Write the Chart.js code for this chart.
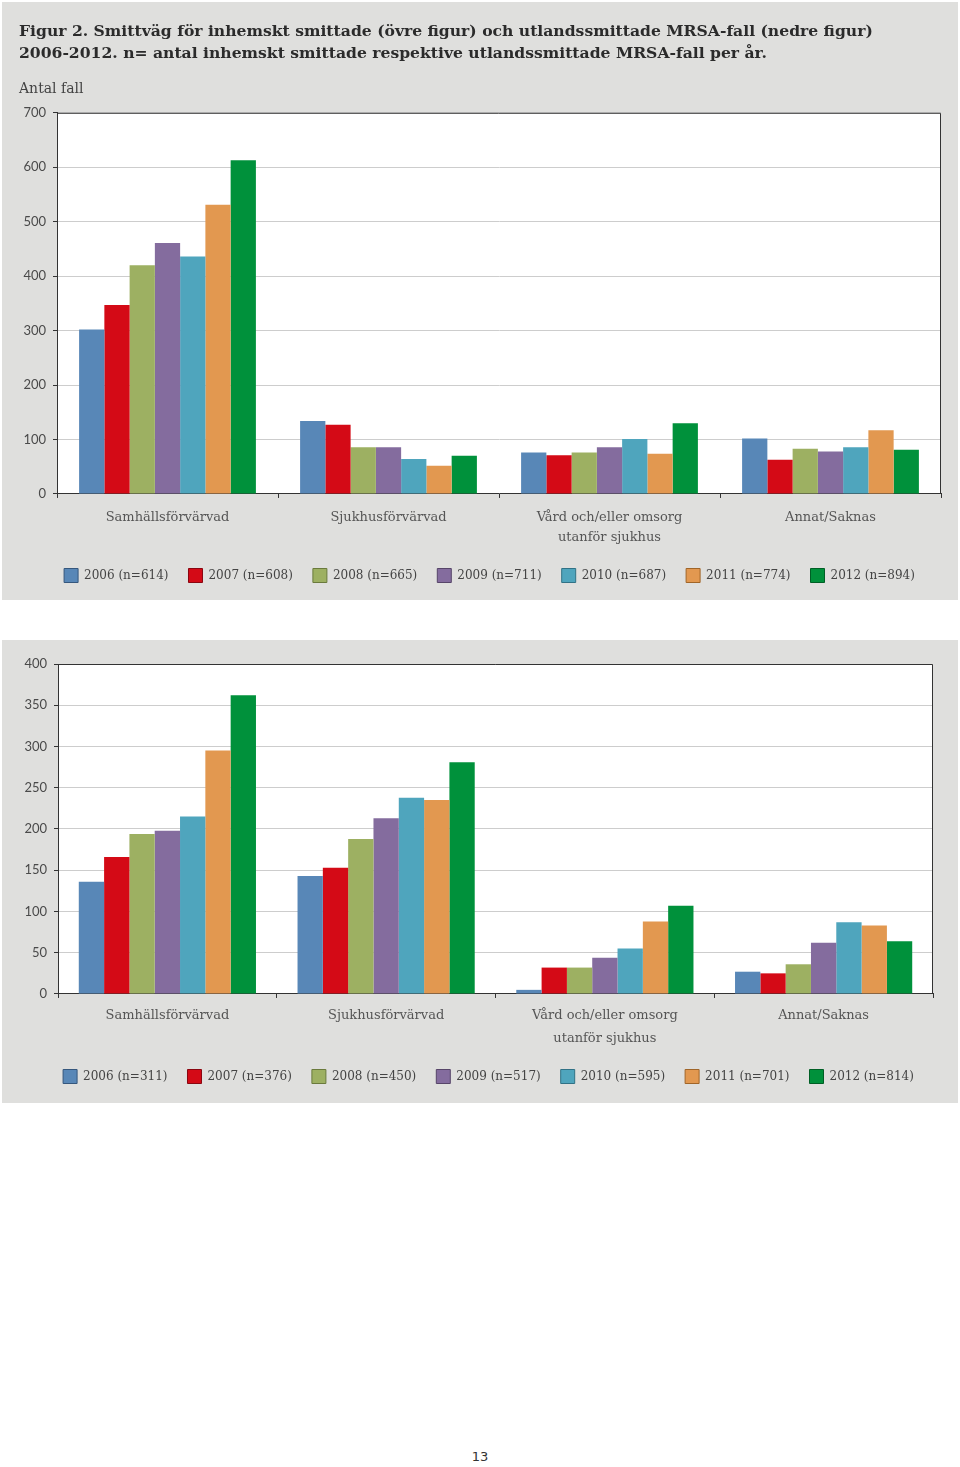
<!DOCTYPE html>
<html>
<head>
<meta charset="utf-8">
<script src="https://cdn.jsdelivr.net/npm/chart.js@4.4.1/dist/chart.umd.min.js"></script>
<style>
  body { margin: 0; background: #fff; width: 960px; height: 1467px; position: relative; }
  .panel { position: absolute; left: 2px; width: 956px; background: #dfdfdd; }
  #p1 { top: 2px; height: 598px; }
  #p2 { top: 640px; height: 463px; }
  #pageno { position: absolute; top: 1449px; left: 0; width: 960px; text-align: center;
            font: 13px 'DejaVu Sans'; color: #333; }
</style>
</head>
<body>
<div class="panel" id="p1"><canvas id="c1" width="956" height="598"></canvas></div>
<div class="panel" id="p2"><canvas id="c2" width="956" height="463"></canvas></div>
<div id="pageno">13</div>
<script>
// categories on the x axis
const categories = ['Samhällsförvärvad', 'Sjukhusförvärvad', ['Vård och/eller omsorg', 'utanför sjukhus'], 'Annat/Saknas']
const years = ['2006', '2007', '2008', '2009', '2010', '2011', '2012']
const inhemskN = [614, 608, 665, 711, 687, 774, 894]
const utlandsN = [311, 376, 450, 517, 595, 701, 814]

// upper figure, one row per year: Samhälls, Sjukhus, Vård, Annat
const inhemsk = [
  [302, 134, 76, 102],
  [347, 127, 71, 63],
  [420, 86, 76, 83],
  [461, 86, 86, 78],
  [436, 64, 101, 86],
  [531, 52, 74, 117],
  [613, 70, 130, 81]
]

// lower figure
const utlands = [
  [136, 143, 5, 27],
  [166, 153, 32, 25],
  [194, 188, 32, 36],
  [198, 213, 44, 62],
  [215, 238, 55, 87],
  [295, 235, 88, 83],
  [362, 281, 107, 64]
]

const colors = ['#5887b7', '#d40a16', '#9db062', '#846c9e', '#4fa5bd', '#e29850', '#00913b']
const edges = ['#35577d', '#8a0610', '#6a7a3c', '#574569', '#317286', '#a06528', '#005f25']

const serif = 'DejaVu Serif'

const plotFrame = {
  id: 'plotFrame',
  afterLayout(chart, args, opts) {
    // nudge the legend row a little, as in the printed figure
    const lg = chart.legend
    if (!lg) return
    lg.top += opts.dy; lg.bottom += opts.dy
    lg.left += opts.dx; lg.right += opts.dx
  },
  beforeDraw(chart) {
    const a = chart.chartArea, ctx = chart.ctx
    ctx.save()
    ctx.fillStyle = '#ffffff'
    ctx.fillRect(a.left, a.top, a.right - a.left, a.bottom - a.top)
    ctx.restore()
  },
  afterDraw(chart) {
    const a = chart.chartArea, ctx = chart.ctx
    ctx.save()
    ctx.strokeStyle = '#333'
    ctx.lineWidth = 1
    ctx.beginPath()
    ctx.moveTo(a.left, a.top + 0.5)
    ctx.lineTo(a.right - 0.5, a.top + 0.5)
    ctx.lineTo(a.right - 0.5, a.bottom)
    ctx.stroke()
    ctx.restore()
  }
}

function makeChart(id, values, ns, yMax, yStep, extra) {
  const datasets = years.map((y, i) => ({
    label: y + ' (n=' + ns[i] + ')',
    data: values[i],
    backgroundColor: colors[i],
    borderWidth: 0,
    categoryPercentage: extra.catPct,
    barPercentage: 1.0
  }))
  return new Chart(document.getElementById(id), {
    type: 'bar',
    data: { labels: categories, datasets: datasets },
    plugins: [plotFrame],
    options: {
      responsive: false,
      animation: false,
      layout: { padding: extra.padding },
      scales: {
        x: {
          grid: { offset: true, drawOnChartArea: false, drawTicks: true, tickLength: 4, tickColor: '#333' },
          border: { color: '#333' },
          ticks: { color: '#555', padding: extra.xPad, maxRotation: 0, autoSkip: false,
                   font: { family: serif, size: 13, lineHeight: extra.xLine } }
        },
        y: {
          min: 0, max: yMax,
          afterFit: s => { s.width = 38 },
          grid: { color: '#cdcdcd', tickColor: '#333', tickLength: 4 },
          border: { color: '#333' },
          ticks: { stepSize: yStep, color: '#4a4a4a', padding: 7, font: { family: 'Lato', size: 13 } }
        }
      },
      plugins: {
        tooltip: { enabled: false },
        title: extra.title,
        subtitle: extra.subtitle,
        plotFrame: { dx: extra.legendDx, dy: extra.legendDy },
        legend: {
          position: 'bottom',
          labels: {
            boxWidth: 14, boxHeight: 14, padding: 20, color: '#444',
            font: { family: serif, size: 12 },
            generateLabels: chart => chart.data.datasets.map((ds, i) => ({
              text: ds.label, fillStyle: ds.backgroundColor, strokeStyle: edges[i],
              lineWidth: 1, datasetIndex: i, fontColor: '#444', hidden: false
            }))
          }
        }
      }
    }
  })
}

makeChart('c1', inhemsk, inhemskN, 700, 100, {
  catPct: 0.8,
  padding: { left: 17, right: 17, top: 19, bottom: -2 },
  xPad: 10, xLine: 1.54,
  legendDx: 9.5, legendDy: -9.5,
  title: {
    display: true, align: 'start', color: '#2b2b2b',
    text: ['Figur 2. Smittväg för inhemskt smittade (övre figur) och utlandssmittade MRSA-fall (nedre figur)',
           '2006-2012. n= antal inhemskt smittade respektive utlandssmittade MRSA-fall per år.'],
    font: { family: serif, size: 15.6, weight: 'bold', lineHeight: 1.41 },
    padding: { top: 0, bottom: 16 }
  },
  subtitle: {
    display: true, align: 'start', color: '#444', text: 'Antal fall',
    font: { family: serif, size: 14, lineHeight: 1.2 },
    padding: { top: 0, bottom: 15 }
  }
})

makeChart('c2', utlands, utlandsN, 400, 50, {
  catPct: 0.81,
  padding: { left: 18, right: 25, top: 24, bottom: 3 },
  xPad: 6, xLine: 1.77,
  legendDx: 12, legendDy: -6.5,
  title: { display: false },
  subtitle: { display: false }
})
</script>
</body>
</html>
